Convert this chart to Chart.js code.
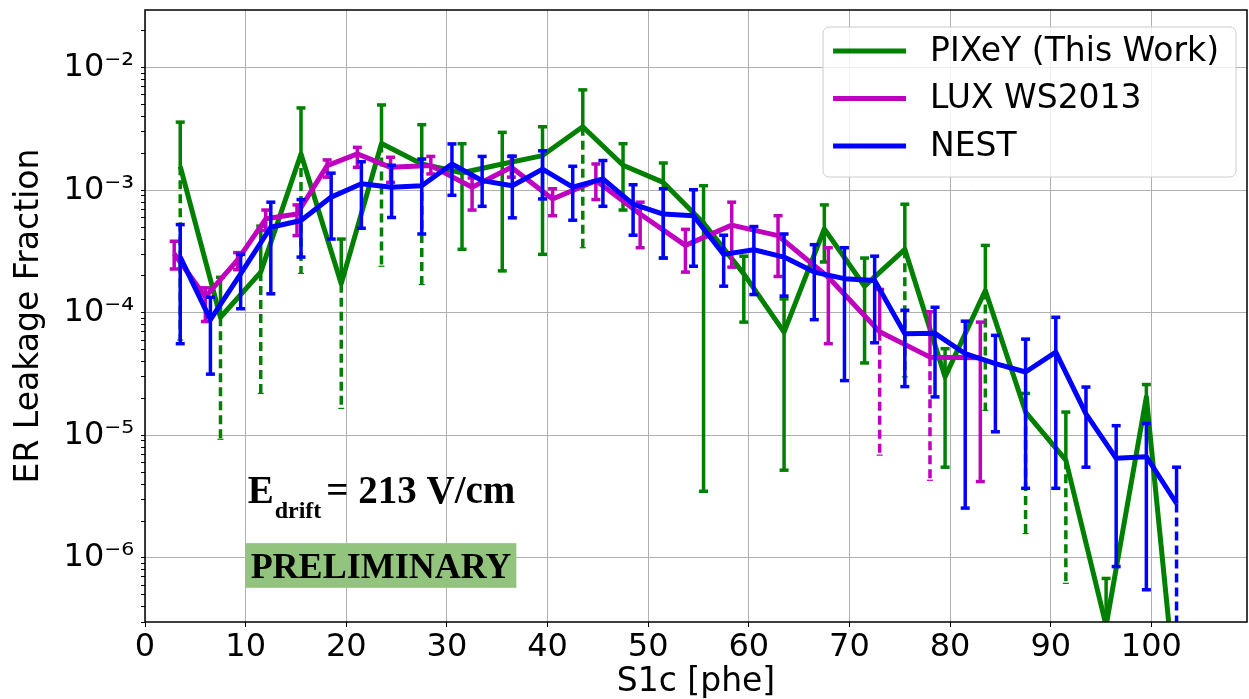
<!DOCTYPE html>
<html>
<head>
<meta charset="utf-8">
<script src="https://cdn.jsdelivr.net/npm/chart.js@4.4.1/dist/chart.umd.min.js"></script>
<style>
  html, body { margin: 0; padding: 0; background: #fff; }
</style>
</head>
<body>
<canvas id="my-chart" width="1249" height="699"></canvas>
<script>
// PIXeY (This Work)
const pixeyX = [3.5, 7.5, 11.5, 15.5, 19.5, 23.5, 27.5, 31.5, 35.5, 39.5, 43.5, 47.5, 51.5,
  55.5, 59.5, 63.5, 67.5, 71.5, 75.5, 79.5, 83.5, 87.5, 91.5, 95.5, 99.5, 103.5];
const pixeyY = [1.57e-3, 9.2e-5, 2.15e-4, 1.98e-3, 1.73e-4, 2.41e-3, 1.64e-3, 1.39e-3, 1.64e-3, 1.92e-3, 3.3e-3, 1.6e-3, 1.16e-3,
  5.4e-4, 2.08e-4, 6.97e-5, 4.84e-4, 1.65e-4, 3.3e-4, 3.0e-5, 1.52e-4, 1.55e-5, 6.27e-6, 2.8e-7, 2.06e-5, 1e-8];
const pixeyHi = [3.6e-3, 1.95e-4, 5.1e-4, 4.7e-3, 4.0e-4, 4.97e-3, 3.43e-3, 2.4e-3, 2.97e-3, 3.3e-3, 6.6e-3, 2.4e-3, 1.67e-3,
  1.09e-3, 2.9e-4, 1.3e-4, 7.6e-4, 2.8e-4, 7.7e-4, 5.1e-5, 3.55e-4, 2.2e-5, 1.55e-5, 6.8e-7, 2.6e-5, 1e-8];
const pixeyLo = [6e-5, 9.3e-6, 2.2e-5, 2.1e-4, 1.66e-5, 2.4e-4, 1.7e-4, 3.3e-4, 2.2e-4, 3.0e-4, 3.4e-4, 6.9e-4, 2.8e-4,
  3.5e-6, 8.4e-5, 5.2e-6, 2.6e-4, 3.9e-5, 3e-5, 5.5e-6, 1.6e-5, 1.58e-6, 6.2e-7, 2.8e-7, 1.3e-5, 1e-8];
const pixeyDash = [1, 1, 1, 1, 1, 1, 1, 0, 0, 0, 1, 0, 0,
  0, 0, 0, 0, 0, 1, 0, 1, 1, 1, 0, 0, 0];

// LUX WS2013
const luxX = [2.9, 6.0, 9.2, 12.0, 15.1, 18.1, 21.1, 24.4, 28.4, 32.5, 36.4, 40.5, 44.8, 49.2,
  53.7, 58.3, 62.9, 67.9, 73.0, 78.0, 83.0];
const luxY = [3.03e-4, 1.35e-4, 2.7e-4, 5.85e-4, 6.4e-4, 1.59e-3, 1.98e-3, 1.54e-3, 1.59e-3, 1.06e-3, 1.54e-3, 8.5e-4, 1.2e-3, 6.4e-4,
  3.55e-4, 5.2e-4, 4.27e-4, 1.95e-4, 7.0e-5, 4.35e-5, 4.3e-5];
const luxHi = [3.84e-4, 1.6e-4, 3.1e-4, 6.9e-4, 7.6e-4, 1.77e-3, 2.24e-3, 1.86e-3, 1.89e-3, 1.26e-3, 1.89e-3, 1.03e-3, 1.64e-3, 8.0e-4,
  4.8e-4, 8.0e-4, 6.2e-4, 3.4e-4, 1.55e-4, 1.02e-4, 8.4e-5];
const luxLo = [2.28e-4, 8.5e-5, 2.25e-4, 4.7e-4, 4.27e-4, 1.28e-3, 1.54e-3, 1.16e-3, 1.36e-3, 6.9e-4, 1.28e-3, 6.2e-4, 8.4e-4, 3.4e-4,
  2.15e-4, 2.36e-4, 1.98e-4, 5.6e-5, 6.9e-6, 4.3e-6, 4.2e-6];
const luxDash = [0, 0, 0, 0, 0, 0, 0, 0, 0, 0, 0, 0, 0, 0,
  0, 0, 0, 0, 1, 1, 0];

// NEST
const nestX = [3.5, 6.5, 9.5, 12.5, 15.5, 18.5, 21.5, 24.5, 27.5, 30.5, 33.5, 36.5, 39.5, 42.5, 45.5, 48.5, 51.5,
  54.5, 57.5, 60.5, 63.5, 66.5, 69.5, 72.5, 75.5, 78.5, 81.5, 84.5, 87.5, 90.5, 93.5, 96.5, 99.5, 102.5];
const nestY = [2.85e-4, 8.8e-5, 2.08e-4, 5.0e-4, 5.67e-4, 8.8e-4, 1.13e-3, 1.06e-3, 1.09e-3, 1.64e-3, 1.2e-3, 1.09e-3, 1.49e-3, 1.06e-3, 1.24e-3, 7.7e-4, 6.4e-4,
  6.2e-4, 3.0e-4, 3.27e-4, 2.85e-4, 2.15e-4, 1.9e-4, 1.84e-4, 6.76e-5, 6.8e-5, 4.64e-5, 3.85e-5, 3.29e-5, 4.78e-5, 1.5e-5, 6.5e-6, 6.7e-6, 2.78e-6];
const nestHi = [5.25e-4, 1.34e-4, 3.0e-4, 8.0e-4, 8.4e-4, 1.38e-3, 1.71e-3, 1.6e-3, 1.8e-3, 2.39e-3, 1.89e-3, 1.9e-3, 2.1e-3, 1.57e-3, 1.75e-3, 1.11e-3, 1.03e-3,
  1.01e-3, 4.3e-4, 5.06e-4, 4.4e-4, 3.6e-4, 3.4e-4, 2.9e-4, 1.05e-4, 1.11e-4, 8.55e-5, 6.55e-5, 6.1e-5, 9.2e-5, 2.48e-5, 1.2e-5, 1.25e-5, 5.5e-6];
const nestLo = [5.6e-5, 3.16e-5, 1.08e-4, 1.43e-4, 2.85e-4, 4.0e-4, 4.9e-4, 6.0e-4, 4.4e-4, 9.1e-4, 7.4e-4, 5.96e-4, 8.5e-4, 5.7e-4, 7.4e-4, 4.3e-4, 2.8e-4,
  2.4e-4, 1.65e-4, 1.41e-4, 1.37e-4, 8.8e-5, 2.8e-5, 5.7e-5, 2.5e-5, 2.06e-5, 2.55e-6, 1.07e-5, 3.7e-6, 3.7e-6, 5.5e-6, 8.5e-7, 5.5e-7, 1e-8];
const nestDash = [0, 0, 0, 0, 0, 0, 0, 0, 0, 0, 0, 0, 0, 0, 0, 0, 0,
  0, 0, 0, 0, 0, 0, 0, 0, 0, 0, 0, 0, 0, 0, 0, 0, 1];

const xTicks = [0, 10, 20, 30, 40, 50, 60, 70, 80, 90, 100];
const yTicks = [1e-6, 1e-5, 1e-4, 1e-3, 1e-2];
const yTickLabels = ['10⁻⁶', '10⁻⁵', '10⁻⁴', '10⁻³', '10⁻²'];

const FONT = 'DejaVu Sans';
Chart.defaults.color = '#000';
Chart.defaults.font.family = FONT;

const toPoints = (xs, ys) => xs.map((x, i) => ({x: x, y: ys[i]}));

const series = (label, color, xs, ys, hi, lo, dash, order) => ({
  label: label,
  data: toPoints(xs, ys),
  borderColor: color,
  backgroundColor: color,
  borderWidth: 5,
  borderJoinStyle: 'round',
  pointRadius: 0,
  tension: 0,
  clip: 0,
  order: order,
  errHi: hi,
  errLo: lo,
  errDash: dash
});

// error bars, drawn right after each series' line
const errorBars = {
  id: 'errorBars',
  afterDatasetDraw(chart, args) {
    const ds = chart.data.datasets[args.index];
    const {ctx, chartArea, scales} = chart;
    const xs = scales.x, ys = scales.y;
    ctx.save();
    ctx.beginPath();
    ctx.rect(chartArea.left, chartArea.top, chartArea.right - chartArea.left, chartArea.bottom - chartArea.top);
    ctx.clip();
    ctx.strokeStyle = ds.borderColor;
    const seg = (x1, y1, x2, y2) => {
      ctx.beginPath();
      ctx.moveTo(x1, y1);
      ctx.lineTo(x2, y2);
      ctx.stroke();
    };
    ds.data.forEach((p, i) => {
      const px = xs.getPixelForValue(p.x);
      const py = ys.getPixelForValue(p.y);
      const hi = ys.getPixelForValue(ds.errHi[i]);
      const lo = ys.getPixelForValue(ds.errLo[i]);
      ctx.setLineDash([]);
      ctx.lineWidth = 3.5;
      if (hi < py - 0.5) {
        seg(px, py, px, hi);
        seg(px - 4.5, hi, px + 4.5, hi);
      }
      if (lo > py + 0.5) {
        if (ds.errDash[i]) {
          ctx.setLineDash([9, 5]);
          seg(px, py, px, lo);
          ctx.setLineDash([]);
          ctx.lineWidth = 1.2;
          seg(px - 3, lo, px + 3, lo);
        } else {
          seg(px, py, px, lo);
          seg(px - 4.5, lo, px + 4.5, lo);
        }
      }
    });
    ctx.restore();
  }
};

// axes frame on all four sides
const frame = {
  id: 'frame',
  afterDatasetsDraw(chart) {
    const {ctx, chartArea: a} = chart;
    ctx.save();
    ctx.strokeStyle = '#000';
    ctx.lineWidth = 1.5;
    ctx.strokeRect(a.left, a.top, a.right - a.left, a.bottom - a.top);
    ctx.restore();
  }
};

// text labels placed in data coordinates
const notes = {
  id: 'notes',
  afterDatasetsDraw(chart) {
    const {ctx, scales: {x, y}} = chart;
    ctx.save();
    // PRELIMINARY badge
    const bx1 = x.getPixelForValue(10.0), bx2 = x.getPixelForValue(36.9);
    const by1 = y.getPixelForValue(1.32e-6), by2 = y.getPixelForValue(5.7e-7);
    ctx.fillStyle = '#93c47d';
    ctx.fillRect(bx1, by1, bx2 - bx1, by2 - by1);
    ctx.fillStyle = '#000';
    ctx.font = 'bold 36px "Liberation Serif"';
    ctx.textAlign = 'center';
    ctx.textBaseline = 'alphabetic';
    ctx.fillText('PRELIMINARY', (bx1 + bx2) / 2, by2 - 10);

    // E_drift = 213 V/cm
    ctx.textAlign = 'left';
    let ex = x.getPixelForValue(10.2);
    const ey = y.getPixelForValue(2.8e-6);
    ctx.font = 'bold 39px "Liberation Serif"';
    ctx.fillText('E', ex, ey);
    ex += ctx.measureText('E').width + 1;
    ctx.font = 'bold 24px "Liberation Serif"';
    ctx.fillText('drift', ex, ey + 15);
    ex += ctx.measureText('drift').width + 5;
    ctx.font = 'bold 39px "Liberation Serif"';
    ctx.fillText('= 213 V/cm', ex, ey);
    ctx.restore();
  }
};

// matplotlib-style legend box in the upper right
const boxLegend = {
  id: 'boxLegend',
  afterDraw(chart) {
    const {ctx, chartArea: a} = chart;
    ctx.save();
    ctx.font = '33px "' + FONT + '"';
    const labels = chart.data.datasets.map(d => d.label);
    const tw = Math.max(...labels.map(l => ctx.measureText(l).width));
    const w = tw + 124, h = 150;
    const left = a.right - 11 - w, top = a.top + 17;
    ctx.beginPath();
    ctx.roundRect(left, top, w, h, 6);
    ctx.fillStyle = 'rgba(255,255,255,0.8)';
    ctx.fill();
    ctx.strokeStyle = '#cccccc';
    ctx.lineWidth = 1;
    ctx.stroke();
    chart.data.datasets.forEach((d, i) => {
      const cy = top + 24 + i * 47.5;
      ctx.strokeStyle = d.borderColor;
      ctx.lineWidth = 5;
      ctx.beginPath();
      ctx.moveTo(left + 10, cy);
      ctx.lineTo(left + 83, cy);
      ctx.stroke();
      ctx.fillStyle = '#000';
      ctx.textBaseline = 'middle';
      ctx.fillText(d.label, left + 107, cy + 1);
    });
    ctx.restore();
  }
};

const ctx = document.getElementById('my-chart');
const myChart = new Chart(ctx, {
  type: 'line',
  data: {
    datasets: [
      series('PIXeY (This Work)', '#008000', pixeyX, pixeyY, pixeyHi, pixeyLo, pixeyDash, 3),
      series('LUX WS2013', '#bf00bf', luxX, luxY, luxHi, luxLo, luxDash, 2),
      series('NEST', '#0000ff', nestX, nestY, nestHi, nestLo, nestDash, 1)
    ]
  },
  options: {
    responsive: false,
    animation: false,
    layout: { padding: { top: 10, right: 2, left: 0, bottom: 0 } },
    plugins: {
      legend: { display: false },
      tooltip: { enabled: false }
    },
    scales: {
      x: {
        type: 'linear',
        min: 0,
        max: 109.5,
        afterBuildTicks: scale => { scale.ticks = xTicks.map(v => ({value: v})); },
        afterFit: scale => {
          scale.height = 77;
          scale.paddingLeft = 0;
          scale.paddingRight = 0;
        },
        grid: { color: '#b0b0b0', lineWidth: 1, tickColor: '#000', tickLength: 5 },
        border: { display: false },
        ticks: { font: { size: 32 }, padding: 1, autoSkip: false, maxRotation: 0 },
        title: {
          display: true,
          text: 'S1c [phe]',
          font: { size: 33, lineHeight: 1.0 },
          padding: { top: 0, bottom: 0 }
        }
      },
      y: {
        type: 'logarithmic',
        min: 3.0e-7,
        max: 2.96e-2,
        afterBuildTicks: scale => {
          const ticks = yTicks.map(v => ({value: v, major: true}));
          [1e-7].concat(yTicks).forEach(d => {
            for (let m = 2; m <= 9; m++) {
              const v = m * d;
              if (v >= scale.min && v <= scale.max) ticks.push({value: v, major: false});
            }
          });
          ticks.sort((p, q) => p.value - q.value);
          scale.ticks = ticks;
        },
        afterFit: scale => {
          scale.width = 145;
          scale.paddingTop = 0;
          scale.paddingBottom = 0;
        },
        grid: {
          color: c => (c.tick && c.tick.major ? '#b0b0b0' : 'rgba(0,0,0,0)'),
          lineWidth: 1,
          tickColor: '#000',
          tickLength: 4
        },
        border: { display: false },
        ticks: {
          font: { size: 32 },
          padding: 7,
          autoSkip: false,
          callback: (value, index, ticks) => {
            const i = yTicks.indexOf(ticks[index].value);
            return i >= 0 ? yTickLabels[i] : '';
          }
        },
        title: {
          display: true,
          text: 'ER Leakage Fraction',
          font: { size: 33, lineHeight: 1.0 },
          padding: { top: 13, bottom: 0 }
        }
      }
    }
  },
  plugins: [errorBars, frame, notes, boxLegend]
});
</script>
</body>
</html>
